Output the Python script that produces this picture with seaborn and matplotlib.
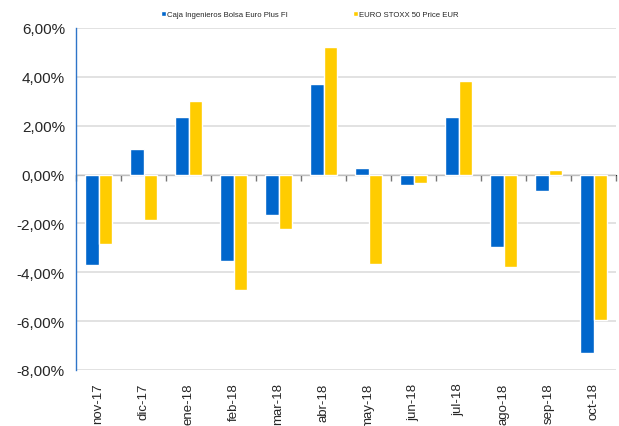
import pandas as pd
import matplotlib
matplotlib.use("Agg")
import matplotlib.pyplot as plt
import seaborn as sns
from matplotlib.ticker import FuncFormatter

months = ['nov-17', 'dic-17', 'ene-18', 'feb-18', 'mar-18', 'abr-18',
          'may-18', 'jun-18', 'jul-18', 'ago-18', 'sep-18', 'oct-18']
fondo = [-3.70, 1.05, 2.36, -3.54, -1.65, 3.71, 0.27, -0.44, 2.36, -2.95, -0.66, -7.32]
stoxx = [-2.85, -1.86, 3.01, -4.73, -2.23, 5.22, -3.67, -0.33, 3.82, -3.77, 0.18, -5.94]
series_names = ['Caja Ingenieros Bolsa Euro Plus FI', 'EURO STOXX 50 Price EUR']

df = pd.DataFrame({
    'mes': months * 2,
    'valor': fondo + stoxx,
    'serie': [series_names[0]] * len(months) + [series_names[1]] * len(months),
})

sns.set_style("white")
plt.rcParams['font.family'] = ['Liberation Sans', 'DejaVu Sans']

fig = plt.figure(figsize=(6.19, 4.27), dpi=100)
ax = fig.add_axes([76 / 619, 1 - 371 / 427, (616 - 76) / 619, (371 - 29) / 427])

sns.barplot(data=df, x='mes', y='valor', hue='serie', ax=ax,
            palette=['#0066CC', '#FFCC00'], width=0.58, saturation=1)

ax.set_ylim(-8, 6)
ax.set_xlim(-0.5, len(months) - 0.5)
ax.set_yticks(range(-8, 7, 2))
ax.yaxis.set_major_formatter(FuncFormatter(lambda v, p: f"{v:.2f}%".replace('.', ',')))
ax.yaxis.grid(True, color='#DDDDDD', linewidth=1.2)
ax.set_axisbelow(True)
ax.set_xlabel('')
ax.set_ylabel('')

for s in ['top', 'right', 'bottom']:
    ax.spines[s].set_visible(False)
ax.spines['left'].set_color('#2E75C8')
ax.spines['left'].set_linewidth(1)

ax.tick_params(axis='y', labelsize=11, length=4, color='#BBBBBB', pad=4)
ax.tick_params(axis='x', labelsize=9.5, length=0, pad=9)
for lbl in ax.get_xticklabels():
    lbl.set_rotation(90)
    lbl.set_va('top')
    lbl.set_ha('center')

# zero line with category-boundary ticks pointing down
zero = ax.secondary_xaxis(8 / 14)
zero.set_xticks([i + 0.5 for i in range(-1, len(months))])
zero.tick_params(length=4, width=1, color='#777777', direction='in',
                 labelbottom=False, labeltop=False)
zero.spines['bottom'].set_color('black')
zero.spines['bottom'].set_linewidth(1.3)
zero.set_xlabel('')

leg = ax.legend(loc='center', bbox_to_anchor=(0.433, 1.04), ncol=2, frameon=True,
                fontsize=5.6, handlelength=0.6, handleheight=0.6, handletextpad=0.1,
                columnspacing=8.5, borderpad=0.3, edgecolor='white', fancybox=False)
leg.get_frame().set_alpha(1)

fig.savefig('out.png', dpi=100)
